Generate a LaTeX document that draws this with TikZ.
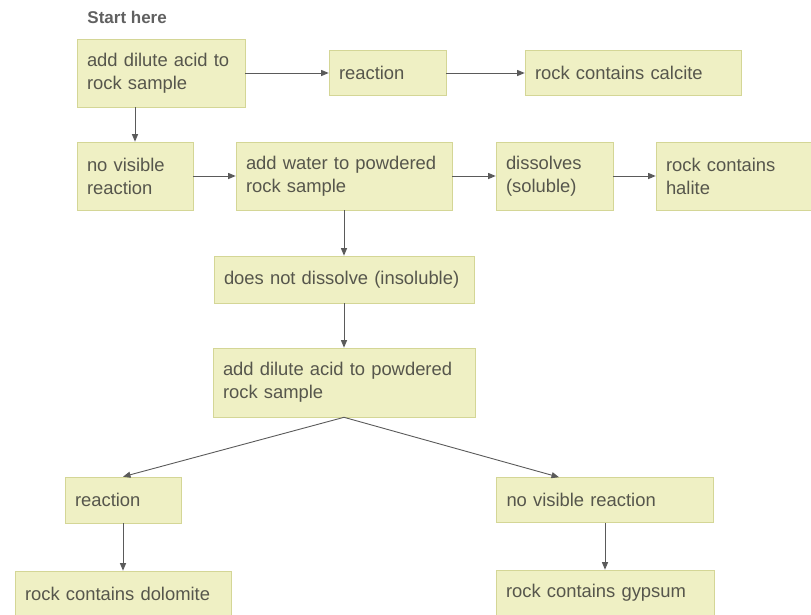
\documentclass[tikz,border=0pt]{standalone}
\usepackage{fontspec}
\setmainfont{Liberation Sans}
\usetikzlibrary{positioning, arrows.meta}
\definecolor{boxfill}{RGB}{239,240,196}
\definecolor{boxline}{RGB}{212,214,150}
\definecolor{boxtext}{RGB}{86,86,76}
\definecolor{arrowgray}{RGB}{90,90,90}
\definecolor{headgray}{RGB}{96,96,96}

\begin{document}
\begin{tikzpicture}[x=1pt, y=1pt, draw=arrowgray, line width=0.9pt]
\tikzset{
->, % every connector is an arrow
>={Triangle[length=7.5pt,width=6pt]}, % small solid heads
box/.style={draw=boxline, fill=boxfill, text=boxtext, line width=0.6pt, text width=#1, inner xsep=10pt, align=left, font=\fontsize{18.4}{23}\selectfont}, % the pale yellow boxes
}
\useasboundingbox (0,0) rectangle (811,-614);
\clip (0,0) rectangle (811,-614);
	\node[font=\bfseries\fontsize{17}{20}\selectfont, text=headgray, anchor=west, inner sep=0pt] (start) at (87,-17) {Start here};
	\node[box=148pt, minimum height=68pt] (b1) at (161,-73) {add dilute acid to\\rock sample};
	\node[box=97pt, minimum height=45pt, right of=b1, node distance=226.5pt] (r1) {reaction};
	\node[box=196pt, minimum height=45pt, right of=r1, node distance=245.5pt] (c1) {rock contains calcite};
	\node[box=96pt, minimum height=68pt] (n1) at (135,-176) {no visible\\reaction};
	\node[box=196pt, minimum height=68pt, right of=n1, node distance=209pt] (w) {add water to powdered\\rock sample};
	\node[box=97pt, minimum height=68pt, right of=w, node distance=210.5pt] (d) {dissolves\\(soluble)};
	\node[box=196pt, minimum height=68pt, right of=d, node distance=209.5pt] (h) {rock contains\\halite};
	\node[box=240pt, minimum height=47pt, below of=w, node distance=103.5pt] (i) {does not dissolve (insoluble)};
	\node[box=242pt, minimum height=69pt, below of=i, node distance=103pt] (a2) {add dilute acid to powdered\\rock sample};
	\node[box=96pt, minimum height=46pt] (r2) at (123,-500) {reaction};
	\node[box=197pt, minimum height=45pt] (n2) at (605,-500) {no visible reaction};
	\node[box=196pt, minimum height=46pt, below of=r2, node distance=94pt] (dol) {rock contains dolomite};
	\node[box=198pt, minimum height=46pt, below of=n2, node distance=93pt] (gyp) {rock contains gypsum};

	\draw (b1) -- (r1);
	\draw (r1) -- (c1);
	\draw (b1.south -| n1) -- (n1);
	\draw (n1) -- (w);
	\draw (w) -- (d);
	\draw (d) -- (h);
	\draw (w) -- (i);
	\draw (i) -- (a2);
	\draw (a2.south) -- (r2.north);
	\draw (a2.south) -- ([xshift=-46pt]n2.north);
	\draw (r2) -- (dol);
	\draw (n2) -- (gyp);
\end{tikzpicture}
\end{document}
